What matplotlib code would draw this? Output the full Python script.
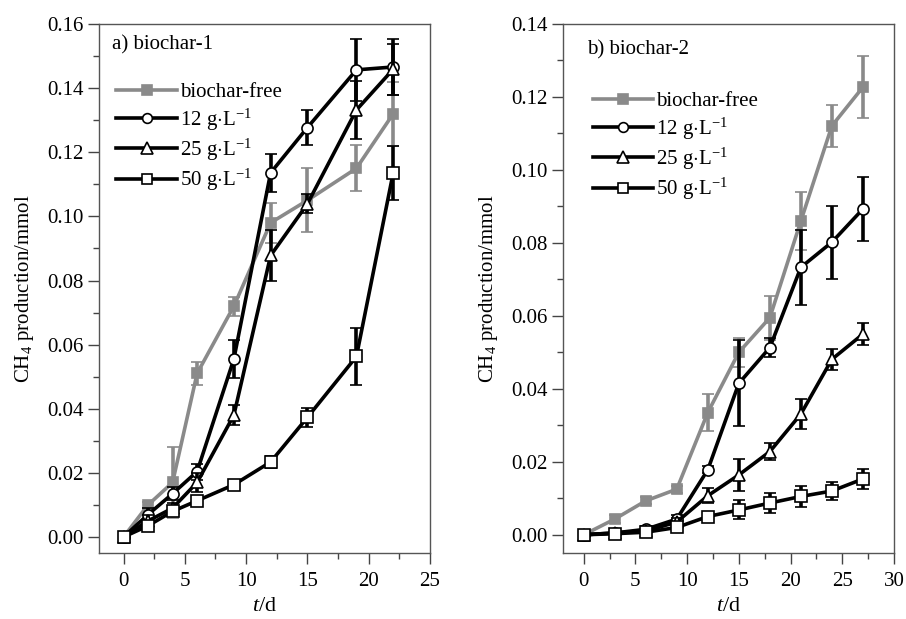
import matplotlib
matplotlib.use('Agg')
import matplotlib.pyplot as plt
from matplotlib.lines import Line2D
from matplotlib.ticker import MultipleLocator

plt.rcParams['font.family'] = ['Liberation Serif', 'DejaVu Serif']
plt.rcParams['mathtext.fontset'] = 'custom'
plt.rcParams['mathtext.rm'] = 'Liberation Serif'
plt.rcParams['mathtext.it'] = 'Liberation Serif:style=italic'
plt.rcParams['font.size'] = 15

labels = ['biochar-free', r'12 g$\cdot$L$^{-1}$', r'25 g$\cdot$L$^{-1}$', r'50 g$\cdot$L$^{-1}$']

# a) biochar-1
t1 = [0, 2, 4, 6, 9, 12, 15, 19, 22]
free1 = [0, 0.010, 0.017, 0.051, 0.072, 0.098, 0.105, 0.115, 0.132]
free1_err = [0, 0.001, 0.011, 0.0035, 0.003, 0.0063, 0.010, 0.0072, 0.010]
c12_1 = [0, 0.007, 0.0135, 0.0204, 0.0555, 0.1136, 0.1277, 0.1457, 0.1466]
c12_1_err = [0, 0.002, 0.002, 0.0025, 0.0058, 0.006, 0.0055, 0.0097, 0.0088]
c25_1 = [0, 0.005, 0.009, 0.017, 0.038, 0.0878, 0.1039, 0.1332, 0.1459]
c25_1_err = [0, 0.002, 0.0015, 0.003, 0.0032, 0.008, 0.003, 0.009, 0.008]
c50_1 = [0, 0.0035, 0.008, 0.0113, 0.0163, 0.0234, 0.0373, 0.0563, 0.1136]
c50_1_err = [0, 0.001, 0.001, 0.0015, 0.001, 0.002, 0.003, 0.009, 0.0085]

# b) biochar-2
t2 = [0, 3, 6, 9, 12, 15, 18, 21, 24, 27]
free2 = [0, 0.0043, 0.0093, 0.0125, 0.0335, 0.050, 0.0595, 0.086, 0.1121, 0.1227]
free2_err = [0, 0.001, 0.001, 0.001, 0.005, 0.004, 0.006, 0.008, 0.0057, 0.0085]
c12_2 = [0, 0.0005, 0.0015, 0.0043, 0.0178, 0.0415, 0.0513, 0.0733, 0.0802, 0.0893]
c12_2_err = [0, 0.001, 0.001, 0.001, 0.001, 0.0118, 0.0025, 0.0103, 0.010, 0.0088]
c25_2 = [0, 0.0005, 0.001, 0.0035, 0.0107, 0.0164, 0.0228, 0.0331, 0.0481, 0.055]
c25_2_err = [0, 0.001, 0.001, 0.001, 0.002, 0.0045, 0.0024, 0.004, 0.0029, 0.003]
c50_2 = [0, 0.0003, 0.0007, 0.002, 0.005, 0.0068, 0.0087, 0.0105, 0.012, 0.0153]
c50_2_err = [0, 0.0005, 0.0005, 0.001, 0.001, 0.0026, 0.0027, 0.0028, 0.0025, 0.0028]

gray = '#8a8a8a'
styles = [
    dict(color=gray, marker='s', mfc=gray, mec=gray, ms=7.5),
    dict(color='black', marker='o', mfc='white', mec='black', ms=8),
    dict(color='black', marker='^', mfc='white', mec='black', ms=9),
    dict(color='black', marker='s', mfc='white', mec='black', ms=8),
]


def draw_panel(ax, t, series, errs, title, xmax, ymax, title_pos, leg_pos):
    for i in range(4):
        st = styles[i]
        ax.errorbar(t, series[i], yerr=errs[i], color=st['color'], marker=st['marker'],
                    mfc=st['mfc'], mec=st['mec'], ms=st['ms'], mew=1.2, lw=2.6,
                    elinewidth=2.6, capsize=4, capthick=2.6, zorder=2 + i)
    ax.set_xlim(-2, xmax)
    ax.set_ylim(-0.005, ymax)
    ax.xaxis.set_major_locator(MultipleLocator(5))
    ax.xaxis.set_minor_locator(MultipleLocator(2.5))
    ax.yaxis.set_major_locator(MultipleLocator(0.02))
    ax.yaxis.set_minor_locator(MultipleLocator(0.01))
    ax.yaxis.set_major_formatter(plt.FormatStrFormatter('%.2f'))
    ax.tick_params(which='both', direction='out', top=False, right=False, labelsize=15, color='#444444')
    ax.tick_params(which='major', length=8, width=1, pad=3)
    ax.tick_params(axis='x', which='major', pad=6)
    ax.tick_params(which='minor', length=4.5, width=1)
    for sp in ax.spines.values():
        sp.set_color('#555555')
        sp.set_linewidth(1)
    ax.set_xlabel(r'$t$/d', fontsize=16, labelpad=4)
    ax.set_ylabel(r'CH$_4$ production/mmol', fontsize=15, labelpad=8)
    ax.text(title_pos[0], title_pos[1], title, transform=ax.transAxes, fontsize=15, va='top', ha='left')
    handles = [Line2D([], [], color=s['color'], marker=s['marker'], mfc=s['mfc'], mec=s['mec'],
                      ms=s['ms'] - 1, mew=1.2, lw=2.6) for s in styles]
    ax.legend(handles, labels, loc='upper left', bbox_to_anchor=leg_pos, frameon=False,
              handlelength=2.9, handletextpad=0.15, labelspacing=0.2, fontsize=15,
              borderaxespad=0)


fig = plt.figure(figsize=(9.06, 6.19), dpi=100)
ax1 = fig.add_axes([0.1093, 0.1066, 0.3653, 0.8546])
ax2 = fig.add_axes([0.6214, 0.1066, 0.3653, 0.8546])

draw_panel(ax1, t1, [free1, c12_1, c25_1, c50_1], [free1_err, c12_1_err, c25_1_err, c50_1_err],
           'a) biochar-1', 25, 0.16, (0.04, 0.978), (0.027, 0.905))
draw_panel(ax2, t2, [free2, c12_2, c25_2, c50_2], [free2_err, c12_2_err, c25_2_err, c50_2_err],
           'b) biochar-2', 30, 0.14, (0.072, 0.97), (0.064, 0.888))

fig.savefig('out.png', dpi=100)
